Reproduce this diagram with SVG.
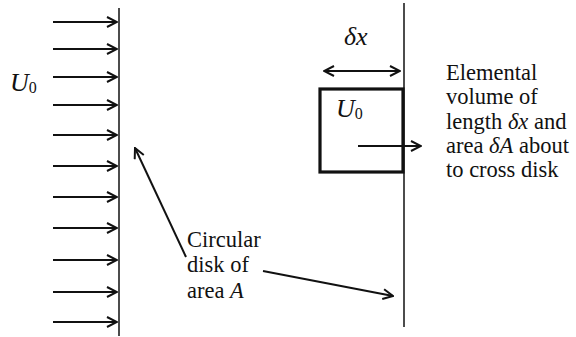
<svg xmlns="http://www.w3.org/2000/svg" width="576" height="337" viewBox="0 0 576 337">
<style>
text{font-family:'Liberation Serif','Times New Roman',serif;font-size:22.5px;fill:#111}
.i{font-style:italic}
.sym{font-size:26px}
.sub{font-size:16px}
.ln{stroke:#111;fill:none}
.ar{stroke:#111;stroke-width:2;fill:none}
</style>
<defs>
<marker id="ah" viewBox="0 0 12 12" refX="11" refY="6" markerWidth="12" markerHeight="12" markerUnits="userSpaceOnUse" orient="auto-start-reverse">
<path d="M1,1 L11,6 L1,11" fill="none" stroke="#111" stroke-width="2"/>
</marker>
</defs>
<rect width="576" height="337" fill="#fff"/>
<g id="disk-left">
<line class="ln" x1="119" y1="8" x2="119" y2="336" stroke-width="1.5"/>
</g>
<g id="disk-right">
<line class="ln" x1="404" y1="3" x2="404" y2="327" stroke-width="1.5"/>
</g>
<g id="flow-arrows">
<line class="ar" x1="53" y1="22" x2="117" y2="22" marker-end="url(#ah)"/>
<line class="ar" x1="53" y1="49" x2="117" y2="49" marker-end="url(#ah)"/>
<line class="ar" x1="53" y1="77" x2="117" y2="77" marker-end="url(#ah)"/>
<line class="ar" x1="53" y1="105" x2="117" y2="105" marker-end="url(#ah)"/>
<line class="ar" x1="53" y1="135" x2="117" y2="135" marker-end="url(#ah)"/>
<line class="ar" x1="53" y1="166" x2="117" y2="166" marker-end="url(#ah)"/>
<line class="ar" x1="53" y1="197" x2="117" y2="197" marker-end="url(#ah)"/>
<line class="ar" x1="53" y1="228" x2="117" y2="228" marker-end="url(#ah)"/>
<line class="ar" x1="53" y1="260" x2="117" y2="260" marker-end="url(#ah)"/>
<line class="ar" x1="53" y1="292" x2="117" y2="292" marker-end="url(#ah)"/>
<line class="ar" x1="53" y1="322" x2="117" y2="322" marker-end="url(#ah)"/>
</g>
<g id="label-u0-left">
<text x="10" y="91"><tspan class="i sym">U</tspan><tspan class="sub" dy="2">0</tspan></text>
</g>
<g id="element-volume">
<rect x="320" y="89" width="83" height="83" fill="none" stroke="#111" stroke-width="3.2"/>
<text x="336" y="117"><tspan class="i sym">U</tspan><tspan class="sub" dy="2">0</tspan></text>
</g>
<g id="label-dx">
<text class="i sym" x="344" y="45">δx</text>
</g>
<g id="label-element">
<text x="446" y="80">Elemental</text>
<text x="446" y="104">volume of</text>
<text x="446" y="129">length <tspan class="i">δx</tspan> and</text>
<text x="446" y="153">area <tspan class="i">δA</tspan> about</text>
<text x="446" y="177">to cross disk</text>
</g>
<g id="label-disk">
<text x="187" y="247">Circular</text>
<text x="187" y="272">disk of</text>
<text x="187" y="298">area <tspan class="i">A</tspan></text>
</g>
<g id="connectors">
<line class="ar" x1="324" y1="71" x2="400" y2="71" marker-start="url(#ah)" marker-end="url(#ah)"/>
<line class="ar" x1="358" y1="146" x2="421" y2="146" marker-end="url(#ah)"/>
<line class="ar" x1="186" y1="257" x2="135" y2="148" marker-end="url(#ah)"/>
<line class="ar" x1="263" y1="271" x2="393" y2="296" marker-end="url(#ah)"/>
</g>
</svg>
